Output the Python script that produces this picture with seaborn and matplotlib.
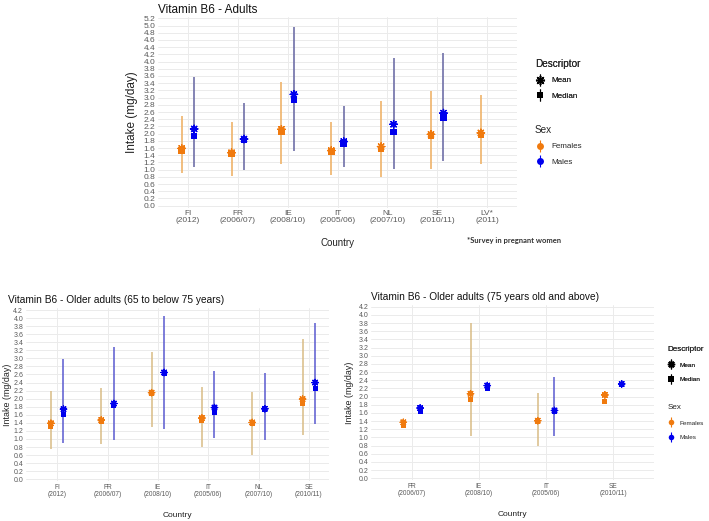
import numpy as np
import pandas as pd
import matplotlib
matplotlib.use("Agg")
import matplotlib.pyplot as plt
import seaborn as sns
from matplotlib.lines import Line2D

nan = np.nan

# ---------------- data ----------------
# Adults
adult_countries = ["FI", "FR", "IE", "IT", "NL", "SE", "LV*"]
adult_ticklabels = ["FI\n(2012)", "FR\n(2006/07)", "IE\n(2008/10)", "IT\n(2005/06)",
                    "NL\n(2007/10)", "SE\n(2010/11)", "LV*\n(2011)"]
adult_f_mean = [1.59, 1.47, 2.12, 1.53, 1.64, 1.98, 2.02]
adult_f_median = [1.53, 1.44, 2.05, 1.50, 1.57, 1.93, 1.96]
adult_f_low = [0.90, 0.83, 1.16, 0.85, 0.81, 1.01, 1.16]
adult_f_high = [2.49, 2.32, 3.44, 2.32, 2.91, 3.17, 3.07]
adult_m_mean = [2.13, 1.85, 3.09, 1.78, 2.26, 2.57, nan]
adult_m_median = [1.94, 1.82, 2.93, 1.72, 2.05, 2.45, nan]
adult_m_low = [1.06, 0.99, 1.53, 1.06, 1.01, 1.25, nan]
adult_m_high = [3.56, 2.86, 4.97, 2.77, 4.09, 4.25, nan]

# Older adults 65 to below 75
old1_countries = ["FI", "FR", "IE", "IT", "NL", "SE"]
old1_ticklabels = ["FI\n(2012)", "FR\n(2006/07)", "IE\n(2008/10)", "IT\n(2005/06)",
                   "NL\n(2007/10)", "SE\n(2010/11)"]
old1_f_mean = [1.39, 1.47, 2.15, 1.52, 1.41, 1.99]
old1_f_median = [1.32, 1.43, 2.12, 1.47, 1.38, 1.88]
old1_f_low = [0.74, 0.88, 1.29, 0.81, 0.60, 1.10]
old1_f_high = [2.20, 2.27, 3.17, 2.28, 2.17, 3.48]
old1_m_mean = [1.74, 1.88, 2.65, 1.78, 1.75, 2.40]
old1_m_median = [1.60, 1.82, 2.62, 1.66, 1.73, 2.26]
old1_m_low = [0.89, 0.98, 1.26, 1.02, 0.98, 1.37]
old1_m_high = [2.98, 3.27, 4.05, 2.69, 2.64, 3.88]

# Older adults 75 and above
old2_countries = ["FR", "IE", "IT", "SE"]
old2_ticklabels = ["FR\n(2006/07)", "IE\n(2008/10)", "IT\n(2005/06)", "SE\n(2010/11)"]
old2_f_mean = [1.37, 2.07, 1.41, 2.04]
old2_f_median = [1.30, 1.92, 1.39, 1.87]
old2_f_low = [nan, 1.04, 0.80, nan]
old2_f_high = [nan, 3.79, 2.10, nan]
old2_m_mean = [1.72, 2.27, 1.66, 2.31]
old2_m_median = [1.63, 2.20, 1.64, 2.29]
old2_m_low = [nan, nan, 1.04, nan]
old2_m_high = [nan, nan, 2.47, nan]

sexes = ["Females", "Males"]
palette = {"Females": "#F07A0E", "Males": "#0000EE"}
dodge = {"Females": -0.125, "Males": 0.125}


def build(countries, fm, fmed, fl, fh, mm, mmed, ml, mh):
    rows = []
    series = {"Females": (fm, fmed, fl, fh), "Males": (mm, mmed, ml, mh)}
    for sex in sexes:
        mean, med, lo, hi = series[sex]
        for i, c in enumerate(countries):
            rows.append(dict(code=i, Country=c, Sex=sex, x=i + dodge[sex],
                             Mean=mean[i], Median=med[i], low=lo[i], high=hi[i]))
    return pd.DataFrame(rows)


sns.set_theme(style="white")
plt.rcParams["font.family"] = ["Liberation Sans", "DejaVu Sans"]

fig = plt.figure(figsize=(7.09, 5.21), dpi=100)

GRID = "#EBEBEB"
TICK = "#5A5A5A"


def panel(rect, df, ticklabels, ymax, xlim, line_cols, sq, st, lw, tick_fs, ytick_fs,
          lab_fs, ylabel_fs, ylabelpad):
    ax = fig.add_axes(rect)
    n = len(ticklabels)
    # error lines
    for sex in sexes:
        d = df[(df.Sex == sex)].dropna(subset=["low", "high"])
        ax.vlines(d["x"], d["low"], d["high"], color=line_cols[sex], lw=lw, zorder=2)
    dm = df.dropna(subset=["Median"])
    sns.scatterplot(data=dm, x="x", y="Median", hue="Sex", palette=palette, marker="s",
                    s=sq, linewidth=0, ax=ax, legend=False, zorder=3)
    sns.scatterplot(data=dm, x="x", y="Mean", hue="Sex", palette=palette, marker=(8, 2, 0),
                    s=st, linewidth=1.0, ax=ax, legend=False, zorder=4)
    ax.set_xlim(*xlim)
    ax.set_ylim(-0.05, ymax + 0.05)
    ax.set_xticks(range(n))
    ax.set_xticklabels(ticklabels, fontsize=tick_fs, color=TICK, linespacing=1.0)
    yt = np.round(np.arange(0, ymax + 0.001, 0.2), 1)
    ax.set_yticks(yt)
    ax.set_yticklabels([f"{v:.1f}" for v in yt], fontsize=ytick_fs, color=TICK)
    ax.tick_params(axis="both", length=0, pad=2)
    ax.grid(True, color=GRID, lw=0.7)
    ax.set_axisbelow(True)
    for s in ax.spines.values():
        s.set_visible(False)
    ax.set_xlabel("Country", fontsize=lab_fs, color="#222222", labelpad=10)
    ax.set_ylabel("Intake (mg/day)", fontsize=ylabel_fs, color="#222222", labelpad=ylabelpad)
    return ax


W, H = 709, 521


def rect(l, t, r, b):
    return [l / W, 1 - b / H, (r - l) / W, (b - t) / H]


# top panel
df_a = build(adult_countries, adult_f_mean, adult_f_median, adult_f_low, adult_f_high,
             adult_m_mean, adult_m_median, adult_m_low, adult_m_high)
ax1 = panel(rect(158, 16.5, 517, 207.5), df_a, adult_ticklabels, 5.2, (-0.6, 6.6),
            {"Females": "#EFB36A", "Males": "#7070A8"}, 22, 28, 1.2, 6, 6.0, 7, 8.5, 4)
fig.text(158 / W, 1 - 10 / H, "Vitamin B6 - Adults", fontsize=8.5, va="center", ha="left",
         color="#111111")
fig.text(514 / W, 1 - 241 / H, "*Survey in pregnant women", fontsize=5.5, ha="center",
         va="center", family="Lato", weight="bold", color="#333333")

# bottom-left panel
df_b = build(old1_countries, old1_f_mean, old1_f_median, old1_f_low, old1_f_high,
             old1_m_mean, old1_m_median, old1_m_low, old1_m_high)
ax2 = panel(rect(26, 308, 329, 481.3), df_b, old1_ticklabels, 4.2, (-0.62, 5.4),
            {"Females": "#D9BC85", "Males": "#5A5AD0"}, 13, 20, 1.1, 4.8, 5.0, 6, 6.4, 1)
fig.text(8 / W, 1 - 300 / H, "Vitamin B6 - Older adults (65 to below 75 years)", fontsize=7.3,
         va="center", ha="left", color="#111111")

# bottom-right panel
df_c = build(old2_countries, old2_f_mean, old2_f_median, old2_f_low, old2_f_high,
             old2_m_mean, old2_m_median, old2_m_low, old2_m_high)
ax3 = panel(rect(371.4, 304.7, 653.6, 480.3), df_c, old2_ticklabels, 4.2, (-0.6, 3.6),
            {"Females": "#D9BC85", "Males": "#5A5AD0"}, 13, 20, 1.1, 4.8, 5.0, 6, 6.4, 3)
fig.text(371 / W, 1 - 297 / H, "Vitamin B6 - Older adults (75 years old and above)",
         fontsize=7.3, va="center", ha="left", color="#111111")


# legends
def glyph(marker, color, ms, vlen, filled=True):
    vline = Line2D([], [], marker="|", markersize=vlen, color=color, linestyle="none",
                   markeredgewidth=0.8)
    if filled:
        m = Line2D([], [], marker=marker, markersize=ms, color=color, linestyle="none",
                   markeredgewidth=0)
    else:
        m = Line2D([], [], marker=marker, markersize=ms, color=color, linestyle="none",
                   markeredgewidth=1.0)
    return (vline, m)


def add_legends(x, y_desc, y_sex, title_fs, lab_fs, ms, vlen, spacing):
    h_desc = [glyph((8, 2, 0), "black", ms * 1.3, vlen, filled=False),
              glyph("s", "black", ms, vlen)]
    h_sex = [glyph("o", palette["Females"], ms, vlen), glyph("o", palette["Males"], ms, vlen)]
    l1 = fig.legend(h_desc, ["Mean", "Median"], title="Descriptor", loc="upper left",
                    bbox_to_anchor=(x / W, 1 - y_desc / H), frameon=False, fontsize=lab_fs,
                    title_fontsize=title_fs, alignment="left", borderpad=0,
                    labelspacing=spacing, handlelength=1.2, handletextpad=0.8)
    fig.legend(h_sex, ["Females", "Males"], title="Sex", loc="upper left",
               bbox_to_anchor=(x / W, 1 - y_sex / H), frameon=False, fontsize=lab_fs,
               title_fontsize=title_fs, alignment="left", borderpad=0,
               labelspacing=spacing, handlelength=1.2, handletextpad=0.8)
    fig.add_artist(l1)


add_legends(531, 55, 121, 7.2, 5.8, 5, 9, 0.95)
add_legends(664, 343, 401, 5.8, 4.6, 4, 7.5, 1.4)

fig.savefig("out.png", dpi=100)
